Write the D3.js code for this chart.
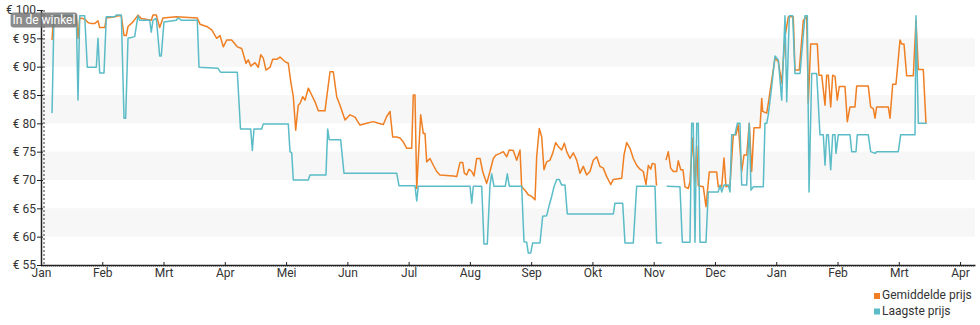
<!DOCTYPE html>
<html>
<head>
<meta charset="utf-8">
<script src="https://cdn.jsdelivr.net/npm/d3@7"></script>
<style>
  html, body { margin: 0; padding: 0; background: #fff; }
  svg { display: block; font-family: Roboto, "Noto Sans", sans-serif; }
</style>
</head>
<body>
<svg id="chart" width="980" height="325"></svg>
<script>
// Month labels (x in months since 1 Jan of year 1)
const monthLabels = ["Jan","Feb","Mrt","Apr","Mei","Jun","Jul","Aug","Sep","Okt","Nov","Dec","Jan","Feb","Mrt","Apr"];
const yTicks = [55, 60, 65, 70, 75, 80, 85, 90, 95, 100];
const seriesNames = ["Gemiddelde prijs", "Laagste prijs"];
const storeMarker = { t: 0.049, label: "In de winkel" };

// Gemiddelde prijs: [month, price]; null = no data
const avgPrice = [
[0.180,94.7],[0.196,97.4],[0.224,98.8],[0.576,98.8],[0.604,95.0],[0.632,98.6],[0.713,98.4],[0.767,97.8],
[0.821,97.6],[0.876,97.6],[0.930,98.1],[0.958,96.9],[1.040,96.9],[1.066,98.6],[1.203,98.8],[1.257,99.0],
[1.311,99.0],[1.355,95.5],[1.392,95.5],[1.420,97.1],[1.502,97.9],[1.583,99.1],[1.637,98.5],[1.800,98.2],
[1.828,99.1],[1.882,99.1],[1.937,96.9],[1.991,98.6],[2.208,98.8],[2.551,98.6],[2.595,97.5],[2.704,97.1],
[2.786,96.5],[2.868,95.0],[2.921,95.5],[2.975,93.5],[3.031,94.7],[3.112,94.7],[3.204,93.5],[3.276,93.2],
[3.346,90.6],[3.383,91.2],[3.423,90.1],[3.493,90.7],[3.547,89.9],[3.586,92.1],[3.628,91.5],[3.672,89.4],
[3.738,89.9],[3.782,91.3],[3.847,91.3],[3.901,91.7],[3.982,90.9],[4.036,90.6],[4.080,87.1],[4.118,84.7],
[4.157,78.8],[4.199,83.2],[4.227,83.5],[4.271,84.7],[4.309,84.1],[4.363,86.2],[4.418,85.0],[4.472,83.8],
[4.526,82.2],[4.635,82.2],[4.717,89.1],[4.771,89.1],[4.826,84.7],[4.880,83.2],[4.962,80.6],[5.043,81.5],
[5.125,81.1],[5.206,79.7],[5.316,80.0],[5.424,80.3],[5.505,80.0],[5.587,79.8],[5.642,81.2],[5.696,82.1],
[5.740,77.6],[5.805,77.6],[5.859,77.4],[5.908,76.8],[5.969,75.6],[6.050,75.6],[6.076,85.0],[6.104,85.0],
[6.132,68.5],[6.197,81.5],[6.240,78.2],[6.267,78.2],[6.295,73.2],[6.349,73.8],[6.403,72.6],[6.458,71.5],
[6.512,70.9],[6.729,70.7],[6.785,70.6],[6.839,73.1],[6.883,73.1],[6.909,71.2],[6.948,70.9],[6.985,71.9],
[7.030,71.5],[7.067,70.7],[7.111,73.8],[7.165,73.8],[7.209,71.5],[7.274,69.4],[7.328,71.5],[7.382,73.8],
[7.426,74.4],[7.491,74.7],[7.545,75.0],[7.601,74.1],[7.643,75.3],[7.708,75.2],[7.764,73.5],[7.818,75.3],
[7.845,68.8],[7.899,68.2],[7.953,67.4],[8.009,67.1],[8.063,66.5],[8.090,74.1],[8.133,79.1],[8.172,77.6],
[8.209,71.8],[8.254,73.2],[8.307,73.5],[8.351,74.7],[8.400,76.6],[8.443,75.9],[8.498,75.3],[8.541,76.5],
[8.580,75.0],[8.634,73.8],[8.688,74.8],[8.743,73.5],[8.797,71.2],[8.851,72.4],[8.906,70.9],[8.960,71.5],
[9.014,73.5],[9.070,74.1],[9.123,72.4],[9.177,72.1],[9.233,70.6],[9.298,69.2],[9.341,70.1],[9.478,70.3],
[9.515,74.4],[9.559,76.6],[9.613,75.6],[9.667,73.8],[9.722,72.6],[9.776,71.9],[9.830,71.5],[9.874,69.2],
[9.912,72.6],[9.951,71.9],[9.977,72.9],[10.021,72.8],[10.046,69.0],[10.120,null],
[10.201,73.5],[10.238,75.0],[10.277,72.1],[10.320,71.5],[10.375,71.5],[10.401,73.4],[10.441,71.8],[10.478,71.8],
[10.511,68.8],[10.565,68.5],[10.592,69.7],[10.636,77.4],[10.674,69.5],[10.702,76.0],[10.728,69.0],[10.810,68.8],
[10.853,65.3],[10.907,71.4],[11.028,71.4],[11.054,68.8],[11.110,68.8],[11.147,73.9],[11.180,68.8],[11.245,69.1],
[11.299,78.0],[11.343,78.0],[11.381,79.7],[11.436,71.5],[11.474,74.4],[11.518,74.4],[11.560,80.0],[11.599,71.5],
[11.637,79.2],[11.735,79.2],[11.763,84.4],[11.779,82.1],[11.844,81.8],[11.870,83.5],[11.926,87.6],[11.980,91.5],
[12.034,90.9],[12.089,87.1],[12.143,95.3],[12.171,97.1],[12.197,98.8],[12.278,98.8],[12.306,89.4],[12.376,89.4],
[12.442,98.2],[12.497,98.8],[12.523,83.5],[12.562,94.0],[12.670,94.0],[12.698,88.5],[12.742,88.5],[12.796,83.2],
[12.823,88.5],[12.850,88.5],[12.889,82.9],[12.921,88.5],[12.959,88.3],[12.996,84.1],[13.029,86.5],[13.122,86.5],
[13.160,80.3],[13.204,82.9],[13.285,82.9],[13.313,86.6],[13.502,86.6],[13.541,82.9],[13.584,82.6],[13.612,80.9],
[13.639,82.9],[13.829,82.9],[13.857,80.9],[13.901,86.9],[13.954,86.9],[14.020,94.7],[14.047,94.0],[14.085,94.0],
[14.129,88.4],[14.237,88.4],[14.281,98.2],[14.319,89.5],[14.400,89.5],[14.444,80.0]
];

// Laagste prijs: [month, price]; null = no data
const lowPrice = [
[0.180,81.8],[0.212,99.0],[0.576,99.0],[0.604,84.1],[0.632,99.0],[0.713,99.0],[0.756,89.9],[0.903,89.9],
[0.930,95.0],[0.958,88.9],[1.028,88.9],[1.066,98.8],[1.203,98.8],[1.229,99.1],[1.311,99.1],[1.355,80.9],
[1.382,80.9],[1.420,95.0],[1.529,95.3],[1.583,99.0],[1.611,98.2],[1.774,98.2],[1.800,96.1],[1.828,98.2],
[1.882,98.5],[1.937,91.9],[1.963,91.9],[2.007,97.9],[2.208,98.2],[2.236,98.6],[2.290,98.2],[2.551,98.2],
[2.579,89.9],[2.889,89.7],[2.933,89.0],[3.204,89.0],[3.256,79.0],[3.423,79.0],[3.449,75.2],[3.476,79.0],
[3.602,79.0],[3.628,79.9],[4.036,79.9],[4.064,75.0],[4.092,74.8],[4.118,70.0],[4.363,70.0],[4.390,70.9],
[4.651,70.9],[4.679,79.0],[4.705,77.1],[4.891,77.1],[4.945,71.2],[5.805,71.2],[5.843,69.0],[6.104,69.0],
[6.132,66.3],[6.158,68.9],[7.002,68.9],[7.030,65.9],[7.056,68.9],[7.193,68.9],[7.230,58.7],[7.284,58.7],
[7.328,69.1],[7.356,71.1],[7.393,68.9],[7.578,68.9],[7.611,71.1],[7.643,68.9],[7.845,68.9],[7.883,59.1],
[7.927,59.0],[7.953,57.1],[7.992,57.1],[8.025,58.9],[8.144,58.9],[8.188,63.6],[8.254,63.7],[8.296,65.6],
[8.335,67.1],[8.373,68.8],[8.417,70.1],[8.459,70.1],[8.498,69.1],[8.552,69.1],[8.590,64.0],[9.341,64.0],
[9.368,65.9],[9.494,65.9],[9.531,58.9],[9.667,58.9],[9.722,68.9],[10.021,68.9],[10.049,58.9],[10.130,58.9],
[10.170,null],
[10.212,68.9],[10.429,68.8],[10.467,59.0],[10.592,59.0],[10.620,80.0],[10.646,80.0],[10.674,59.0],[10.702,80.0],
[10.728,80.0],[10.756,59.0],[10.853,59.0],[10.891,67.9],[11.054,67.9],[11.083,69.1],[11.110,67.9],[11.147,69.1],
[11.217,69.1],[11.245,67.9],[11.273,78.0],[11.327,78.0],[11.365,80.0],[11.408,80.0],[11.436,69.1],[11.518,69.1],
[11.560,80.0],[11.588,68.2],[11.625,68.8],[11.789,68.8],[11.816,80.0],[11.844,80.0],[11.870,81.5],[11.926,86.5],
[11.980,91.9],[12.034,91.2],[12.089,84.1],[12.143,99.0],[12.171,83.8],[12.213,99.0],[12.268,99.0],[12.306,88.8],
[12.388,88.8],[12.469,99.0],[12.507,99.0],[12.535,67.9],[12.579,88.8],[12.660,88.8],[12.714,78.0],[12.768,78.0],
[12.796,72.6],[12.823,78.0],[12.850,78.0],[12.889,71.8],[12.921,78.0],[12.959,78.0],[12.975,74.7],[13.013,78.0],
[13.204,78.0],[13.231,75.0],[13.302,75.0],[13.323,78.0],[13.502,78.0],[13.541,75.0],[13.612,74.7],[13.639,75.0],
[13.992,75.0],[14.031,78.0],[14.265,78.0],[14.281,99.0],[14.319,80.0],[14.456,80.0]
];

const colors = ["#ef7f22", "#5bbcc7"];

const svg = d3.select("#chart");
const margin = { left: 41, right: 5, top: 10, bottom: 60 };
const W = 980, H = 325;

const x = d3.scaleLinear().domain([0, 15.244]).range([margin.left, W - margin.right]);
const y = d3.scaleLinear().domain([55, 100]).range([H - margin.bottom, margin.top]);

// alternating bands
const bands = [];
for (let i = 0; i < yTicks.length - 1; i++) {
  if (i % 2 === 1) bands.push([yTicks[i], yTicks[i + 1]]);
}
svg.append("g").selectAll("rect").data(bands).join("rect")
  .attr("x", x(0)).attr("width", x.range()[1] - x(0))
  .attr("y", d => y(d[1])).attr("height", d => y(d[0]) - y(d[1]))
  .attr("fill", "#f7f7f7");

// store marker dotted line
svg.append("line")
  .attr("x1", x(storeMarker.t)).attr("x2", x(storeMarker.t))
  .attr("y1", y(100)).attr("y2", y(55))
  .attr("stroke", "#333").attr("stroke-width", 1).attr("stroke-dasharray", "2,2");

// lines
const line = d3.line()
  .defined(d => d[1] != null)
  .x(d => x(d[0])).y(d => y(d[1]));

[avgPrice, lowPrice].forEach((data, i) => {
  svg.append("path").datum(data)
    .attr("fill", "none").attr("stroke", colors[i])
    .attr("stroke-width", 1.5).attr("stroke-linejoin", "round")
    .attr("d", line);
});

// y axis
const yAxis = svg.append("g").attr("transform", `translate(${x(0)},0)`)
  .call(d3.axisLeft(y).tickValues(yTicks).tickSize(4).tickSizeOuter(0)
    .tickFormat(d => "€ " + d));
yAxis.select(".domain").attr("stroke", "#222").attr("stroke-width", 1.5);
yAxis.selectAll(".tick line").attr("stroke", "#222").attr("x2", -4).attr("x1", 2);
yAxis.selectAll(".tick text").attr("font-size", 12).attr("fill", "#333")
  .attr("font-family", "Roboto, sans-serif").attr("x", -5);

// x axis minor (dotted) ticks
svg.append("line")
  .attr("x1", x(0)).attr("x2", x.range()[1])
  .attr("y1", y(55) + 1.5).attr("y2", y(55) + 1.5)
  .attr("stroke", "#aaa").attr("stroke-width", 1).attr("stroke-dasharray", "1,1");

// x axis
const xAxis = svg.append("g").attr("transform", `translate(0,${y(55)})`)
  .call(d3.axisBottom(x).tickValues(d3.range(monthLabels.length)).tickSize(0).tickSizeOuter(0)
    .tickFormat(i => monthLabels[i]));
xAxis.select(".domain").attr("stroke", "#222").attr("stroke-width", 1.5);
xAxis.selectAll(".tick line").attr("stroke", "#222").attr("y1", 0).attr("y2", -3);
xAxis.selectAll(".tick text").attr("font-size", 12).attr("fill", "#333")
  .attr("font-family", "Roboto, sans-serif").attr("y", 3).attr("dy", "0.71em");

// store marker label
const lbl = svg.append("g");
const lblText = lbl.append("text")
  .attr("x", x(storeMarker.t)).attr("y", y(100) + 14)
  .attr("text-anchor", "middle").attr("font-size", 12).attr("fill", "#fff")
  .attr("font-family", "Roboto, sans-serif")
  .text(storeMarker.label);
const bb = lblText.node().getBBox();
lbl.insert("rect", "text")
  .attr("x", bb.x - 2).attr("y", bb.y - 0.5).attr("width", bb.width + 4).attr("height", bb.height + 1)
  .attr("rx", 3).attr("fill", "#777").attr("fill-opacity", 0.85);

// legend
const legend = svg.append("g").attr("transform", "translate(874,0)");
seriesNames.forEach((name, i) => {
  const g = legend.append("g").attr("transform", `translate(0,${299 + i * 15.5})`);
  g.append("rect").attr("x", 0).attr("y", -6).attr("width", 6).attr("height", 6).attr("fill", colors[i]);
  g.append("text").attr("x", 8).attr("y", 0).attr("font-size", 12).attr("fill", "#333")
    .attr("font-family", "Roboto, sans-serif").text(name);
});
</script>
</body>
</html>
